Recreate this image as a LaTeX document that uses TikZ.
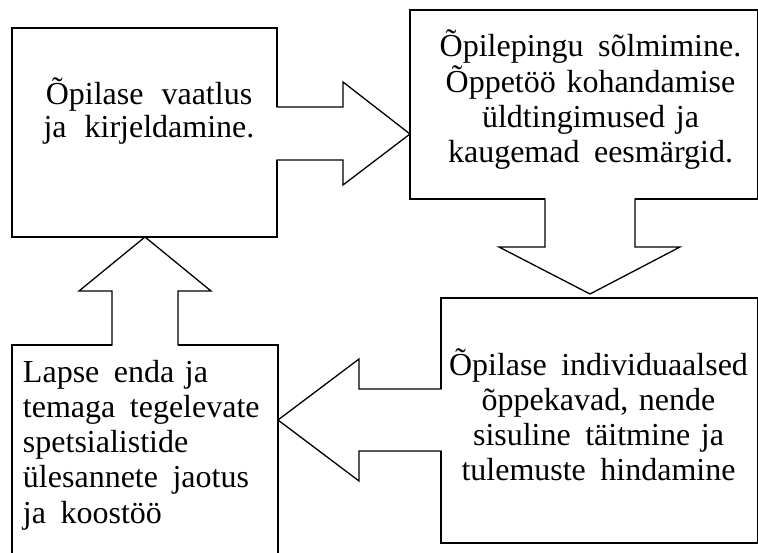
\documentclass[tikz,border=0pt]{standalone}
\usepackage{fontspec}
\setmainfont{Liberation Serif}
\usetikzlibrary{calc}
\newcommand\wgap{\hspace{14.5pt}}
\newcommand\wgapA{\hspace{18pt}}
\begin{document}
\begin{tikzpicture}[x=1pt,y=-1pt,line width=1.3pt,line join=miter,
  box/.style={draw,fill=white,line width=1.3pt,inner sep=0pt,outer sep=0pt,anchor=north west},
  arrfill/.style={fill=white,draw=none},
  arrline/.style={draw,line width=1.3pt,line cap=rect,line join=miter},
  txt/.style={inner sep=0pt,outer sep=0pt,anchor=base,align=center},
  big/.style={font=\fontsize{32}{35.3}\selectfont},
  bigtight/.style={font=\fontsize{32}{33}\selectfont}]
\useasboundingbox (0,0) rectangle (758,553);
\clip (0,0) rectangle (758,553);
% boxes
\node[box,minimum width=265pt,minimum height=209pt] (b1) at (12,28) {};
\node[box,minimum width=347.35pt,minimum height=189pt] (b2) at (410,10) {};
\node[box,minimum width=316.35pt,minimum height=245pt] (b3) at (441,298) {};
\node[box,minimum width=266pt,minimum height=230pt] (b4) at (12,345) {};
% texts
\node[txt,bigtight,text width=260pt] (t1) at (149,105) {Õpilase\wgapA vaatlus\\ja\wgapA kirjeldamine.};
\node[txt,big,text width=340pt] (t2) at (590.5,57) {Õpilepingu\wgap sõlmimine.\\Õppetöö kohandamise\\üldtingimused ja\\kaugemad\wgap eesmärgid.};
\node[txt,big,text width=310pt] (t3) at (598.5,375) {Õpilase\wgap individuaalsed\\õppekavad, nende\\sisuline\wgap täitmine ja\\tulemuste\wgap hindamine};
\node[txt,big,anchor=base west,align=left,text width=255pt] (t4) at (23,382) {Lapse\wgap enda ja\\temaga\wgap tegelevate\\spetsialistide\\ülesannete\wgap jaotus\\ja\wgap koostöö};
% arrow b1 -> b2
\path[arrfill] ($(b1.east|-0,107)+(-2,0)$) -- (343,107) -- (343,82) -- (b2.west|-0,134) -- (343,185) -- (343,160) -- ($(b1.east|-0,160)+(-2,0)$) -- cycle;
\draw[arrline] (b1.east|-0,107) -- (343,107) -- (343,82) -- (b2.west|-0,134) -- (343,185) -- (343,160) -- (b1.east|-0,160);
% arrow b2 -> b3
\coordinate (tip23) at ($(b3.north-|590,0)+(0,-4)$);
\path[arrfill] ($(545,0|-b2.south)+(0,-2)$) -- (545,247) -- (499,247) -- (tip23) -- (680,247) -- (635,247) -- ($(635,0|-b2.south)+(0,-2)$) -- cycle;
\draw[arrline] (545,0|-b2.south) -- (545,247) -- (499,247) -- (tip23) -- (680,247) -- (635,247) -- (635,0|-b2.south);
% arrow b3 -> b4
\path[arrfill] ($(b3.west|-0,389)+(2,0)$) -- (359,389) -- (359,359) -- (b4.east|-0,420) -- (359,481) -- (359,451) -- ($(b3.west|-0,451)+(2,0)$) -- cycle;
\draw[arrline] (b3.west|-0,389) -- (359,389) -- (359,359) -- (b4.east|-0,420) -- (359,481) -- (359,451) -- (b3.west|-0,451);
% arrow b4 -> b1
\path[arrfill] ($(112,0|-b4.north)+(0,2)$) -- (112,291) -- (79,291) -- (145,0|-b1.south) -- (211,291) -- (178,291) -- ($(178,0|-b4.north)+(0,2)$) -- cycle;
\draw[arrline] (112,0|-b4.north) -- (112,291) -- (79,291) -- (145,0|-b1.south) -- (211,291) -- (178,291) -- (178,0|-b4.north);
\end{tikzpicture}
\end{document}
